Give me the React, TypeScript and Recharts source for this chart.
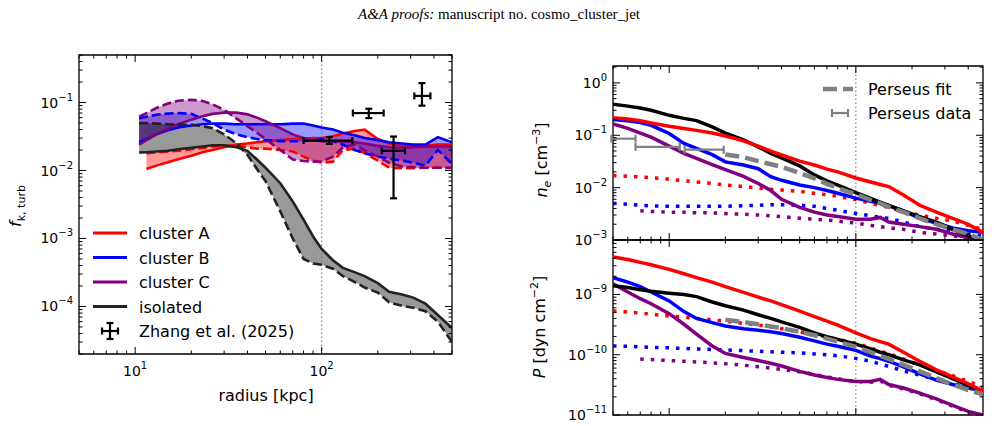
import React from "react";
import {
  Area,
  ComposedChart,
  ErrorBar,
  Line,
  ReferenceArea,
  ReferenceLine,
  Scatter,
  XAxis,
  YAxis
} from "recharts";

const PAGE_W = 994;
const PAGE_H = 426;
const FONT = "DejaVu Sans, sans-serif";

const RED = "#ff0000";
const BLUE = "#0000ff";
const PURPLE = "#800080";
const BLACK = "#000000";
const GREY = "#808080";

// ---- left panel: turbulent kinetic fraction ----
const radiusTurb = [10.5, 11.5, 13, 15, 17, 20, 23, 26, 30, 35, 40, 45, 50, 60, 70, 80, 90, 100, 115, 130, 150, 170, 200, 230, 270, 310, 360, 420, 500];
const clusterASolid = [null, 0.0105, 0.0118, 0.0132, 0.0146, 0.0165, 0.0185, 0.02, 0.022, 0.024, 0.025, 0.026, 0.027, 0.028, 0.029, 0.0295, 0.03, 0.03, 0.032, 0.035, 0.038, 0.04, 0.029, 0.025, 0.023, 0.023, 0.023, 0.024, 0.024];
const clusterADashed = [null, 0.018, 0.0185, 0.019, 0.0195, 0.0205, 0.0215, 0.0225, 0.023, 0.023, 0.022, 0.021, 0.021, 0.02, 0.019, 0.016, 0.014, 0.013, 0.0135, 0.02, 0.021, 0.018, 0.014, 0.011, 0.0108, 0.0108, 0.011, 0.011, 0.0108];
const clusterBSolid = [0.026, 0.029, 0.034, 0.039, 0.043, 0.046, 0.048, 0.049, 0.049, 0.048, 0.048, 0.048, 0.048, 0.048, 0.049, 0.049, 0.046, 0.043, 0.04, 0.036, 0.033, 0.03, 0.028, 0.026, 0.025, 0.024, 0.024, 0.031, 0.026];
const clusterBDashed = [0.058, 0.062, 0.066, 0.069, 0.07, 0.068, 0.058, 0.05, 0.04, 0.034, 0.031, 0.029, 0.028, 0.027, 0.027, 0.027, 0.028, 0.029, 0.027, 0.024, 0.02, 0.018, 0.016, 0.015, 0.014, 0.013, 0.0118, 0.02, 0.0125];
const clusterCSolid = [0.024, 0.028, 0.034, 0.041, 0.048, 0.056, 0.063, 0.068, 0.071, 0.071, 0.067, 0.06, 0.053, 0.042, 0.034, 0.03, 0.028, 0.027, 0.027, 0.027, 0.026, 0.025, 0.023, 0.022, 0.0215, 0.022, 0.0225, 0.0225, 0.0225];
const clusterCDashed = [0.062, 0.07, 0.083, 0.097, 0.106, 0.11, 0.105, 0.094, 0.078, 0.058, 0.045, 0.036, 0.029, 0.02, 0.0145, 0.0138, 0.0135, 0.0136, 0.016, 0.022, 0.024, 0.02, 0.016, 0.013, 0.0115, 0.0112, 0.011, 0.011, 0.011];
const isolatedSolid = [0.0184, 0.0186, 0.019, 0.0195, 0.0205, 0.0215, 0.0225, 0.0235, 0.0235, 0.022, 0.0195, 0.0145, 0.011, 0.0065, 0.0035, 0.0019, 0.00107, 0.0007, 0.00048, 0.00037, 0.00032, 0.00028, 0.00022, 0.000165, 0.00015, 0.000135, 0.00011, 0.000075, 0.000048];
const isolatedDashed = [0.05, 0.05, 0.049, 0.048, 0.047, 0.047, 0.045, 0.042, 0.034, 0.025, 0.017, 0.0105, 0.007, 0.0025, 0.001, 0.0005, 0.00043, 0.00041, 0.00036, 0.00028, 0.00023, 0.00019, 0.00016, 0.000115, 0.000102, 0.000096, 0.000085, 0.00006, 0.00003];

// Zhang et al. (2025)
const zhangR = [110, 179, 243, 345];
const zhangRLow = [80, 147, 210, 314];
const zhangRHigh = [146, 215, 280, 383];
const zhangF = [0.0276, 0.07, 0.0195, 0.125];
const zhangFLow = [0.0247, 0.059, 0.0039, 0.09];
const zhangFHigh = [0.031, 0.081, 0.0316, 0.193];

// ---- right panels: density and pressure profiles ----
const radiusProf = [5, 6, 7, 8, 10, 12, 14, 17, 20, 25, 30, 35, 40, 50, 60, 70, 80, 100, 120, 135, 150, 180, 220, 270, 330, 400, 480];
const neA = [0.215, 0.205, 0.19, 0.172, 0.148, 0.134, 0.124, 0.11, 0.097, 0.078, 0.062, 0.05, 0.042, 0.032, 0.027, 0.0225, 0.02, 0.0153, 0.0128, 0.0115, 0.0105, 0.0072, 0.0046, 0.0034, 0.0026, 0.002, 0.0014];
const neB = [0.2, 0.19, 0.175, 0.155, 0.108, 0.07, 0.056, 0.0426, 0.031, 0.027, 0.023, 0.0162, 0.0138, 0.0112, 0.01, 0.0088, 0.0078, 0.0063, 0.0055, 0.005, 0.0045, 0.0036, 0.0026, 0.0021, 0.0017, 0.0015, 0.0014];
const neC = [0.165, 0.135, 0.11, 0.092, 0.062, 0.045, 0.036, 0.0274, 0.022, 0.0164, 0.012, 0.0088, 0.006, 0.0042, 0.0034, 0.003, 0.0028, 0.0025, 0.0025, 0.0027, 0.0022, 0.002, 0.0018, 0.0016, 0.0013, 0.0011, 0.00095];
const neIso = [0.39, 0.36, 0.33, 0.3, 0.24, 0.21, 0.19, 0.145, 0.11, 0.082, 0.06, 0.045, 0.037, 0.026, 0.0175, 0.0135, 0.0112, 0.008, 0.0062, 0.0053, 0.0046, 0.0036, 0.0028, 0.0022, 0.0016, 0.0012, 0.00095];
const neAmbA = [0.017, 0.0165, 0.016, 0.0155, 0.0145, 0.0135, 0.0128, 0.012, 0.0112, 0.0105, 0.0098, 0.0093, 0.009, 0.0085, 0.0078, 0.0073, 0.0068, 0.0059, 0.005, 0.0046, 0.0042, 0.0035, 0.003, 0.0026, 0.0023, 0.0019, 0.0016];
const neAmbB = [0.005, 0.0048, 0.0046, 0.0045, 0.0044, 0.0044, 0.0044, 0.0044, 0.0044, 0.0045, 0.0046, 0.0047, 0.0047, 0.0046, 0.0044, 0.004, 0.0037, 0.0032, 0.0029, 0.0027, 0.0026, 0.0022, 0.0018, 0.0016, 0.0015, 0.0013, 0.0012];
const neAmbC = [null, null, 0.0036, 0.0035, 0.0034, 0.0034, 0.0033, 0.0033, 0.0032, 0.0031, 0.003, 0.0029, 0.0028, 0.0026, 0.0025, 0.0024, 0.0023, 0.0021, 0.0019, 0.0018, 0.0017, 0.0016, 0.0014, 0.0013, 0.0012, 0.0011, 0.00095];
const nePerseusFit = [null, null, null, null, null, null, null, null, 0.043, 0.038, 0.032, 0.028, 0.025, 0.019, 0.015, 0.0118, 0.0098, 0.0075, 0.0058, 0.005, 0.0043, 0.0034, 0.0026, 0.002, 0.0016, 0.0013, 0.001];

const pA = [4.2e-9, 3.8e-9, 3.4e-9, 3.1e-9, 2.6e-9, 2.2e-9, 1.9e-9, 1.6e-9, 1.35e-9, 1.08e-9, 9e-10, 7.8e-10, 6.8e-10, 5.3e-10, 4.3e-10, 3.6e-10, 3.1e-10, 2.3e-10, 1.85e-10, 1.65e-10, 1.5e-10, 1.1e-10, 7.8e-11, 5.6e-11, 4.3e-11, 3.3e-11, 2.5e-11];
const pB = [1.9e-9, 1.6e-9, 1.35e-9, 1.1e-9, 7.8e-10, 5.2e-10, 4e-10, 3.4e-10, 3e-10, 2.7e-10, 2.55e-10, 2.4e-10, 2.25e-10, 1.95e-10, 1.7e-10, 1.5e-10, 1.38e-10, 1.18e-10, 9.5e-11, 8.6e-11, 7.8e-11, 6.3e-11, 4.8e-11, 3.8e-11, 3.2e-11, 2.8e-11, 2.5e-11];
const pC = [1.5e-9, 1.1e-9, 8.5e-10, 7e-10, 4.8e-10, 3.2e-10, 2.2e-10, 1.4e-10, 1.05e-10, 9e-11, 8e-11, 7.2e-11, 6.5e-11, 5.3e-11, 4.6e-11, 4.2e-11, 3.9e-11, 3.6e-11, 3.6e-11, 3.9e-11, 3.2e-11, 2.8e-11, 2.3e-11, 1.85e-11, 1.45e-11, 1.15e-11, 1e-11];
const pIso = [1.4e-9, 1.3e-9, 1.2e-9, 1.13e-9, 1.05e-9, 1e-9, 9.2e-10, 7.5e-10, 6.5e-10, 5.5e-10, 4.6e-10, 4e-10, 3.5e-10, 2.85e-10, 2.3e-10, 2e-10, 1.8e-10, 1.5e-10, 1.25e-10, 1.1e-10, 1e-10, 8.2e-11, 6.8e-11, 5.2e-11, 4e-11, 3.1e-11, 2.5e-11];
const pAmbA = [5.3e-10, 5.1e-10, 4.9e-10, 4.7e-10, 4.4e-10, 4.2e-10, 4e-10, 3.8e-10, 3.6e-10, 3.3e-10, 3.1e-10, 2.9e-10, 2.7e-10, 2.4e-10, 2.15e-10, 1.95e-10, 1.8e-10, 1.55e-10, 1.3e-10, 1.15e-10, 1.05e-10, 8.5e-11, 6.8e-11, 5.5e-11, 4.5e-11, 3.6e-11, 2.9e-11];
const pAmbB = [1.4e-10, 1.38e-10, 1.35e-10, 1.33e-10, 1.3e-10, 1.27e-10, 1.25e-10, 1.22e-10, 1.2e-10, 1.17e-10, 1.14e-10, 1.12e-10, 1.1e-10, 1.07e-10, 1.03e-10, 1e-10, 9.6e-11, 8.7e-11, 7.8e-11, 7e-11, 6.4e-11, 5.4e-11, 4.6e-11, 3.9e-11, 3.3e-11, 2.9e-11, 2.5e-11];
const pAmbC = [null, null, 8.5e-11, 8.3e-11, 8e-11, 7.8e-11, 7.6e-11, 7.3e-11, 7.1e-11, 6.7e-11, 6.3e-11, 6e-11, 5.7e-11, 5.2e-11, 4.7e-11, 4.3e-11, 4e-11, 3.6e-11, 3.5e-11, 3.7e-11, 3.1e-11, 2.7e-11, 2.25e-11, 1.8e-11, 1.4e-11, 1.12e-11, 9.8e-12];
const pPerseusFit = [null, null, null, null, null, null, null, null, 3.8e-10, 3.5e-10, 3.2e-10, 2.95e-10, 2.75e-10, 2.4e-10, 2.1e-10, 1.85e-10, 1.65e-10, 1.35e-10, 1.1e-10, 9.6e-11, 8.5e-11, 6.8e-11, 5.3e-11, 4.1e-11, 3.2e-11, 2.6e-11, 2.2e-11];

// Perseus data (x error bars only)
const perseusR = [5.6, 8.7, 15.4];
const perseusRLow = [4.9, 6.6, 12.1];
const perseusRHigh = [6.6, 11.4, 19.6];
const perseusNe = [0.086, 0.06, 0.053];

type Box = { left: number; right: number; top: number; bottom: number };

const turbBox: Box = { left: 79, right: 452, top: 55, bottom: 354 };
const neBox: Box = { left: 613, right: 983, top: 66, bottom: 240 };
const presBox: Box = { left: 613, right: 983, top: 240, bottom: 415 };

const turbX: [number, number] = [5, 500];
const turbY: [number, number] = [2e-5, 0.5];
const profX: [number, number] = [5, 480];
const neY: [number, number] = [1e-3, 2.1];
const presY: [number, number] = [1e-11, 8e-9];

const Y_AXIS_W = 40;
const X_AXIS_H = 10;

function band(a: number | null, b: number | null) {
  if (a == null || b == null) {
    return null;
  }
  return [Math.min(a, b), Math.max(a, b)];
}

const turbRows = radiusTurb.map((r, i) => ({
  r,
  aSolid: clusterASolid[i],
  aDashed: clusterADashed[i],
  aBand: band(clusterASolid[i], clusterADashed[i]),
  bSolid: clusterBSolid[i],
  bDashed: clusterBDashed[i],
  bBand: band(clusterBSolid[i], clusterBDashed[i]),
  cSolid: clusterCSolid[i],
  cDashed: clusterCDashed[i],
  cBand: band(clusterCSolid[i], clusterCDashed[i]),
  isoSolid: isolatedSolid[i],
  isoDashed: isolatedDashed[i],
  isoBand: band(isolatedSolid[i], isolatedDashed[i])
}));

const zhangRows = zhangR.map((r, i) => ({
  r,
  f: zhangF[i],
  rErr: [r - zhangRLow[i], zhangRHigh[i] - r],
  fErr: [zhangF[i] - zhangFLow[i], zhangFHigh[i] - zhangF[i]]
}));

const profRows = radiusProf.map((r, i) => ({
  r,
  neA: neA[i],
  neB: neB[i],
  neC: neC[i],
  neIso: neIso[i],
  neAmbA: neAmbA[i],
  neAmbB: neAmbB[i],
  neAmbC: neAmbC[i],
  neFit: nePerseusFit[i],
  pA: pA[i],
  pB: pB[i],
  pC: pC[i],
  pIso: pIso[i],
  pAmbA: pAmbA[i],
  pAmbB: pAmbB[i],
  pAmbC: pAmbC[i],
  pFit: pPerseusFit[i]
}));

const perseusRows = perseusR.map((r, i) => ({
  r,
  ne: perseusNe[i],
  rErr: [r - perseusRLow[i], perseusRHigh[i] - r]
}));

function logTicks([min, max]: [number, number]) {
  const ticks: number[] = [];
  for (let d = Math.floor(Math.log10(min)); d <= Math.ceil(Math.log10(max)); d += 1) {
    for (let k = 1; k <= 9; k += 1) {
      const v = Number((k * Math.pow(10, d)).toPrecision(6));
      if (v >= min * 0.999 && v <= max * 1.001) {
        ticks.push(v);
      }
    }
  }
  return ticks;
}

function decade(v: number) {
  const p = Math.log10(v);
  const rounded = Math.round(p);
  return Math.abs(p - rounded) < 1e-6 ? rounded : null;
}

function expText(p: number) {
  return p < 0 ? `\u2212${-p}` : `${p}`;
}

function xTick(box: Box, labels: boolean) {
  return function XTickMark(props: any) {
    const x = props.x;
    const p = decade(props.payload.value);
    const len = p == null ? 3.5 : 7;
    return (
      <g>
        <line x1={x} x2={x} y1={box.bottom} y2={box.bottom - len} stroke={BLACK} strokeWidth={1} />
        <line x1={x} x2={x} y1={box.top} y2={box.top + len} stroke={BLACK} strokeWidth={1} />
        {labels && p != null ? (
          <text x={x} y={box.bottom + 22} textAnchor="middle" fontFamily={FONT} fontSize={14} fill={BLACK}>
            10
            <tspan dy={-7} fontSize={10}>
              {expText(p)}
            </tspan>
          </text>
        ) : null}
      </g>
    );
  };
}

function yTick(box: Box) {
  return function YTickMark(props: any) {
    const y = props.y;
    const p = decade(props.payload.value);
    const len = p == null ? 3.5 : 7;
    return (
      <g>
        <line x1={box.left} x2={box.left + len} y1={y} y2={y} stroke={BLACK} strokeWidth={1} />
        <line x1={box.right} x2={box.right - len} y1={y} y2={y} stroke={BLACK} strokeWidth={1} />
        {p != null ? (
          <text x={box.left - 6} y={y + 5} textAnchor="end" fontFamily={FONT} fontSize={14} fill={BLACK}>
            10
            <tspan dy={-7} fontSize={10}>
              {expText(p)}
            </tspan>
          </text>
        ) : null}
      </g>
    );
  };
}

function marginFor(box: Box) {
  return {
    top: box.top,
    left: box.left - Y_AXIS_W,
    right: PAGE_W - box.right,
    bottom: PAGE_H - box.bottom - X_AXIS_H
  };
}

const layer: React.CSSProperties = { position: "absolute", left: 0, top: 0 };

function NoMarker() {
  return <g />;
}

function axes(box: Box, xDomain: [number, number], yDomain: [number, number], xLabels: boolean) {
  return [
    <XAxis
      key="x"
      type="number"
      dataKey="r"
      scale="log"
      domain={xDomain}
      allowDataOverflow
      ticks={logTicks(xDomain)}
      interval={0}
      height={X_AXIS_H}
      axisLine={false}
      tickLine={false}
      tick={xTick(box, xLabels)}
    />,
    <YAxis
      key="y"
      type="number"
      scale="log"
      domain={yDomain}
      allowDataOverflow
      ticks={logTicks(yDomain)}
      interval={0}
      width={Y_AXIS_W}
      axisLine={false}
      tickLine={false}
      tick={yTick(box)}
    />
  ];
}

function TurbulencePanel() {
  return (
    <div style={layer}>
      <ComposedChart width={PAGE_W} height={PAGE_H} data={turbRows} margin={marginFor(turbBox)}>
        {axes(turbBox, turbX, turbY, true)}
        <ReferenceLine x={100} stroke={GREY} strokeDasharray="1.5 2.5" strokeWidth={1.2} />
        <Area dataKey="aBand" stroke="none" fill={RED} fillOpacity={0.4} isAnimationActive={false} />
        <Area dataKey="bBand" stroke="none" fill={BLUE} fillOpacity={0.4} isAnimationActive={false} />
        <Area dataKey="cBand" stroke="none" fill={PURPLE} fillOpacity={0.4} isAnimationActive={false} />
        <Area dataKey="isoBand" stroke="none" fill={BLACK} fillOpacity={0.4} isAnimationActive={false} />
        <Line dataKey="aSolid" stroke={RED} strokeWidth={2.6} dot={false} isAnimationActive={false} />
        <Line dataKey="aDashed" stroke={RED} strokeWidth={2.6} strokeDasharray="9 4" dot={false} isAnimationActive={false} />
        <Line dataKey="bSolid" stroke={BLUE} strokeWidth={2.6} dot={false} isAnimationActive={false} />
        <Line dataKey="bDashed" stroke={BLUE} strokeWidth={2.6} strokeDasharray="9 4" dot={false} isAnimationActive={false} />
        <Line dataKey="cSolid" stroke={PURPLE} strokeWidth={2.6} dot={false} isAnimationActive={false} />
        <Line dataKey="cDashed" stroke={PURPLE} strokeWidth={2.6} strokeDasharray="9 4" dot={false} isAnimationActive={false} />
        <Line dataKey="isoSolid" stroke="#222222" strokeWidth={2.6} dot={false} isAnimationActive={false} />
        <Line dataKey="isoDashed" stroke="#222222" strokeWidth={2.6} strokeDasharray="9 4" dot={false} isAnimationActive={false} />
        <Scatter data={zhangRows} dataKey="f" shape={<NoMarker />} isAnimationActive={false}>
          <ErrorBar dataKey="fErr" direction="y" stroke={BLACK} strokeWidth={2.2} width={3.5} isAnimationActive={false} />
          <ErrorBar dataKey="rErr" direction="x" stroke={BLACK} strokeWidth={2.2} width={3.5} isAnimationActive={false} />
        </Scatter>
        <ReferenceArea x1={turbX[0]} x2={turbX[1]} y1={turbY[0]} y2={turbY[1]} fill="none" stroke={BLACK} strokeWidth={1.3} ifOverflow="visible" />
      </ComposedChart>
    </div>
  );
}

function DensityPanel() {
  return (
    <div style={layer}>
      <ComposedChart width={PAGE_W} height={PAGE_H} data={profRows} margin={marginFor(neBox)}>
        {axes(neBox, profX, neY, false)}
        <ReferenceLine x={100} stroke={GREY} strokeDasharray="1.5 2.5" strokeWidth={1.2} />
        <Line dataKey="neAmbA" stroke={RED} strokeWidth={3.5} strokeDasharray="3.5 7" dot={false} isAnimationActive={false} />
        <Line dataKey="neAmbB" stroke={BLUE} strokeWidth={3.5} strokeDasharray="3.5 7" dot={false} isAnimationActive={false} />
        <Line dataKey="neAmbC" stroke={PURPLE} strokeWidth={3.5} strokeDasharray="3.5 7" dot={false} isAnimationActive={false} />
        <Line dataKey="neC" stroke={PURPLE} strokeWidth={3.5} dot={false} isAnimationActive={false} />
        <Line dataKey="neB" stroke={BLUE} strokeWidth={3.5} dot={false} isAnimationActive={false} />
        <Line dataKey="neIso" stroke={BLACK} strokeWidth={3.5} dot={false} isAnimationActive={false} />
        <Line dataKey="neA" stroke={RED} strokeWidth={3.5} dot={false} isAnimationActive={false} />
        <Line dataKey="neFit" stroke={GREY} strokeWidth={4.5} strokeDasharray="14 6" dot={false} isAnimationActive={false} />
        <Scatter data={perseusRows} dataKey="ne" shape={<NoMarker />} isAnimationActive={false}>
          <ErrorBar dataKey="rErr" direction="x" stroke={GREY} strokeWidth={2.2} width={4} isAnimationActive={false} />
        </Scatter>
        <ReferenceArea x1={profX[0]} x2={profX[1]} y1={neY[0]} y2={neY[1]} fill="none" stroke={BLACK} strokeWidth={1.3} ifOverflow="visible" />
      </ComposedChart>
    </div>
  );
}

function PressurePanel() {
  return (
    <div style={layer}>
      <ComposedChart width={PAGE_W} height={PAGE_H} data={profRows} margin={marginFor(presBox)}>
        {axes(presBox, profX, presY, false)}
        <ReferenceLine x={100} stroke={GREY} strokeDasharray="1.5 2.5" strokeWidth={1.2} />
        <Line dataKey="pAmbA" stroke={RED} strokeWidth={3.5} strokeDasharray="3.5 7" dot={false} isAnimationActive={false} />
        <Line dataKey="pAmbB" stroke={BLUE} strokeWidth={3.5} strokeDasharray="3.5 7" dot={false} isAnimationActive={false} />
        <Line dataKey="pAmbC" stroke={PURPLE} strokeWidth={3.5} strokeDasharray="3.5 7" dot={false} isAnimationActive={false} />
        <Line dataKey="pC" stroke={PURPLE} strokeWidth={3.5} dot={false} isAnimationActive={false} />
        <Line dataKey="pB" stroke={BLUE} strokeWidth={3.5} dot={false} isAnimationActive={false} />
        <Line dataKey="pIso" stroke={BLACK} strokeWidth={3.5} dot={false} isAnimationActive={false} />
        <Line dataKey="pA" stroke={RED} strokeWidth={3.5} dot={false} isAnimationActive={false} />
        <Line dataKey="pFit" stroke={GREY} strokeWidth={4.5} strokeDasharray="14 6" dot={false} isAnimationActive={false} />
        <ReferenceArea x1={profX[0]} x2={profX[1]} y1={presY[0]} y2={presY[1]} fill="none" stroke={BLACK} strokeWidth={1.3} ifOverflow="visible" />
      </ComposedChart>
    </div>
  );
}

const legendRows = [
  { label: "cluster A", color: RED, y: 233 },
  { label: "cluster B", color: BLUE, y: 257.5 },
  { label: "cluster C", color: PURPLE, y: 282 },
  { label: "isolated", color: "#222222", y: 306.5 }
];

function Annotations() {
  return (
    <svg width={PAGE_W} height={PAGE_H} style={{ ...layer, pointerEvents: "none" }}>
      <text x={499} y={19} textAnchor="middle" fontFamily="Liberation Serif, serif" fontSize={15} fill={BLACK}>
        <tspan fontStyle="italic">A&amp;A proofs:</tspan>
        {" manuscript no. cosmo_cluster_jet"}
      </text>

      {/* left panel labels */}
      <text x={266} y={401} textAnchor="middle" fontFamily={FONT} fontSize={16} fill={BLACK}>
        radius [kpc]
      </text>
      <text transform="translate(21,206) rotate(-90)" textAnchor="middle" fontFamily={FONT} fontSize={16} fill={BLACK}>
        <tspan fontStyle="italic">f</tspan>
        <tspan dy={4} fontSize={11}>
          k, turb
        </tspan>
      </text>

      {legendRows.map((row) => (
        <g key={row.label}>
          <line x1={93} x2={127} y1={row.y} y2={row.y} stroke={row.color} strokeWidth={3} />
          <text x={139} y={row.y + 6} fontFamily={FONT} fontSize={16} fill={BLACK}>
            {row.label}
          </text>
        </g>
      ))}
      <g stroke={BLACK} strokeWidth={2.2}>
        <line x1={102} x2={118} y1={331} y2={331} />
        <line x1={110} x2={110} y1={323} y2={339} />
        <line x1={102} x2={102} y1={327.5} y2={334.5} />
        <line x1={118} x2={118} y1={327.5} y2={334.5} />
        <line x1={106.5} x2={113.5} y1={323} y2={323} />
        <line x1={106.5} x2={113.5} y1={339} y2={339} />
      </g>
      <text x={139} y={337} fontFamily={FONT} fontSize={16} fill={BLACK}>
        Zhang et al. (2025)
      </text>

      {/* right panel labels */}
      <text transform="translate(547,160) rotate(-90)" textAnchor="middle" fontFamily={FONT} fontSize={16} fill={BLACK}>
        <tspan fontStyle="italic">n</tspan>
        <tspan dy={4} fontSize={11} fontStyle="italic">
          e
        </tspan>
        <tspan dy={-4}> [cm</tspan>
        <tspan dy={-7} fontSize={11}>
          {"\u22123"}
        </tspan>
        <tspan dy={7}>]</tspan>
      </text>
      <text transform="translate(545,327) rotate(-90)" textAnchor="middle" fontFamily={FONT} fontSize={16} fill={BLACK}>
        <tspan fontStyle="italic">P</tspan>
        <tspan> [dyn cm</tspan>
        <tspan dy={-7} fontSize={11}>
          {"\u22122"}
        </tspan>
        <tspan dy={7}>]</tspan>
      </text>

      <line x1={823} x2={853} y1={89} y2={89} stroke={GREY} strokeWidth={4.5} strokeDasharray="14 6" />
      <text x={868} y={95} fontFamily={FONT} fontSize={16} fill={BLACK}>
        Perseus fit
      </text>
      <g stroke={GREY} strokeWidth={2.2}>
        <line x1={832} x2={848} y1={113} y2={113} />
        <line x1={832} x2={832} y1={109} y2={117} />
        <line x1={848} x2={848} y1={109} y2={117} />
      </g>
      <text x={868} y={119} fontFamily={FONT} fontSize={16} fill={BLACK}>
        Perseus data
      </text>
    </svg>
  );
}

export default function App() {
  return (
    <div style={{ position: "absolute", left: 0, top: 0, width: PAGE_W, height: PAGE_H, background: "#ffffff", overflow: "hidden" }}>
      <TurbulencePanel />
      <DensityPanel />
      <PressurePanel />
      <Annotations />
    </div>
  );
}
